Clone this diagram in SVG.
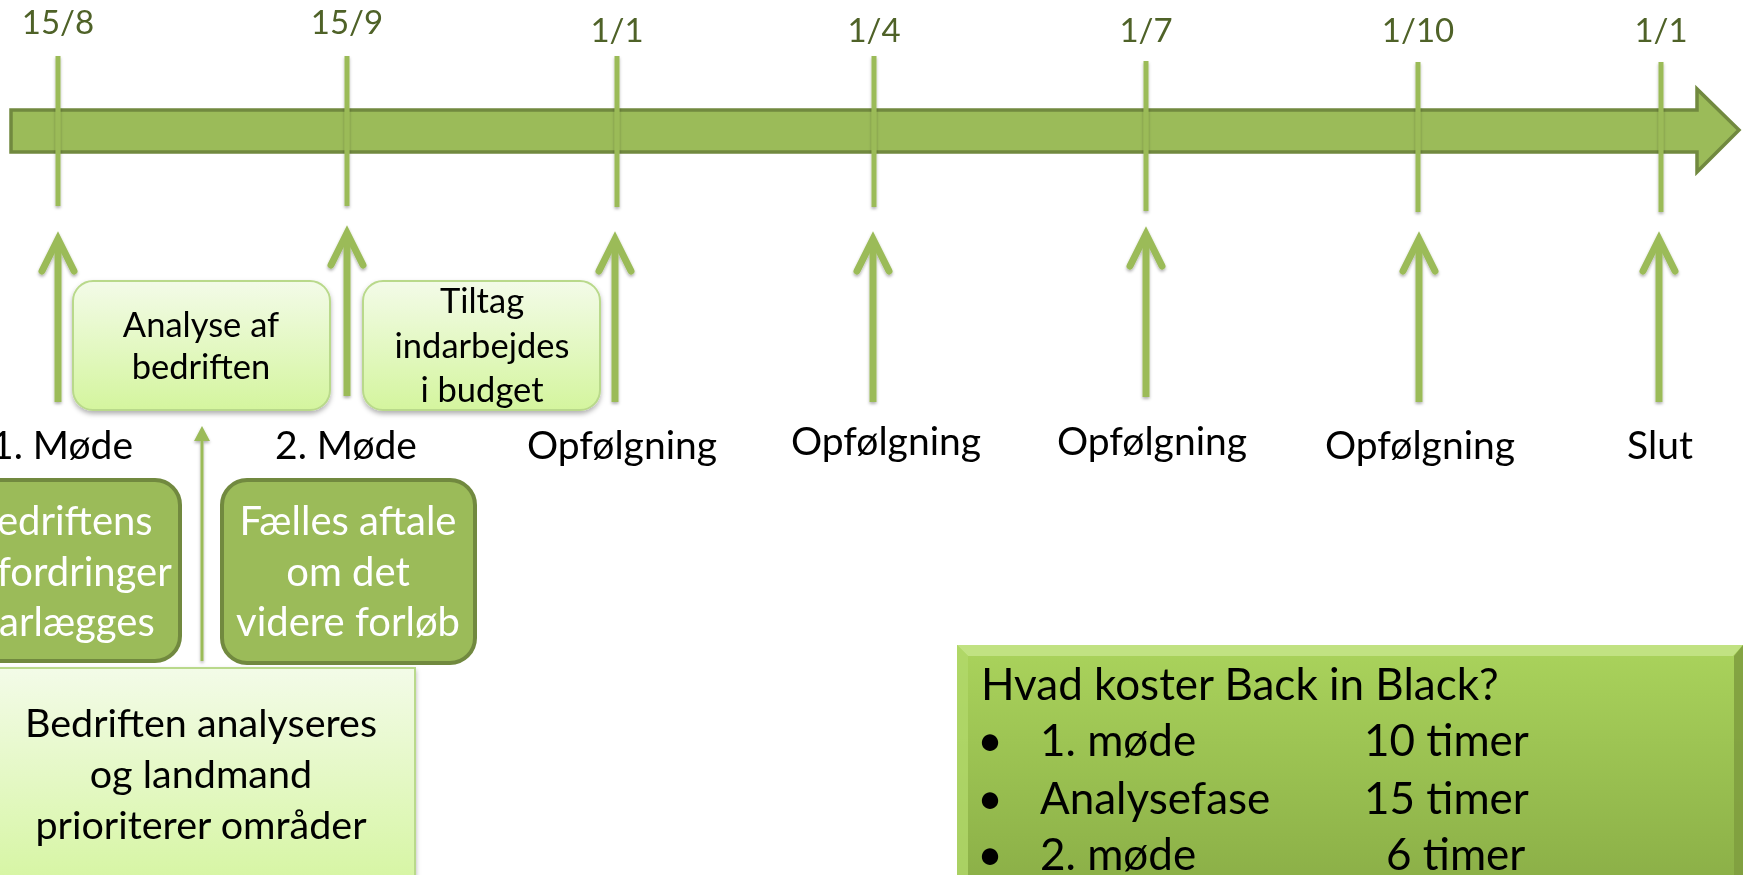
<svg xmlns="http://www.w3.org/2000/svg" xmlns:xlink="http://www.w3.org/1999/xlink" width="1743" height="875" viewBox="0 0 1743 875">
<defs>
<linearGradient id="lightGrad" x1="0" y1="0" x2="0" y2="1">
<stop offset="0" stop-color="#F3FBE8"/>
<stop offset="1" stop-color="#D4F59E"/>
</linearGradient>
<linearGradient id="costGrad" x1="0" y1="0" x2="0" y2="1">
<stop offset="0" stop-color="#AAD35C"/>
<stop offset="1" stop-color="#8BAF47"/>
</linearGradient>
<filter id="shadow" x="-10%" y="-10%" width="120%" height="130%">
<feDropShadow dx="0" dy="3" stdDeviation="2.5" flood-color="#000" flood-opacity="0.3"/>
</filter>
<filter id="lineShadow" x="-100%" y="-10%" width="300%" height="120%">
<feDropShadow dx="0" dy="2" stdDeviation="1.5" flood-color="#000" flood-opacity="0.3"/>
</filter>
<g id="up">
<line x1="0" y1="4" x2="0" y2="164" stroke="#9BBB59" stroke-width="7"/>
<polyline points="-16,33 0,1 16,33" fill="none" stroke="#9BBB59" stroke-width="7" stroke-linecap="round" stroke-linejoin="miter"/>
</g>
</defs>
<style>
text { font-family: Lato, "Open Sans", "Liberation Sans", sans-serif; }
.date { font-size: 33px; fill: #4F6228; text-anchor: middle; }
.event { font-size: 39px; fill: #000; text-anchor: middle; }
.dark { fill: #9BBB59; stroke: #71893F; stroke-width: 4; }
.darkText { font-size: 40px; fill: #FFF; text-anchor: middle; }
.light { fill: url(#lightGrad); stroke: #B9D98B; stroke-width: 2; }
.lightText { font-size: 34.5px; fill: #000; text-anchor: middle; }
.bigLightText { font-size: 39.5px; fill: #000; text-anchor: middle; }
.tick { stroke: #9BBB59; stroke-width: 5; }
.cost { font-size: 44px; fill: #000; }
</style>
<rect width="1743" height="875" fill="#FFFFFF"/>

<g id="timeline">
<path d="M11,110 H1697 V89 L1739,130 L1697,172 V152 H11 Z" fill="#9BBB59" stroke="#71893F" stroke-width="3.5"/>
<g filter="url(#lineShadow)">
<line class="tick" x1="58" y1="56" x2="58" y2="206"/>
<line class="tick" x1="347" y1="56" x2="347" y2="206"/>
<line class="tick" x1="617" y1="56" x2="617" y2="207"/>
<line class="tick" x1="874" y1="56" x2="874" y2="207"/>
<line class="tick" x1="1146" y1="61" x2="1146" y2="211"/>
<line class="tick" x1="1418" y1="62" x2="1418" y2="212"/>
<line class="tick" x1="1661" y1="62" x2="1661" y2="212"/>
</g>
</g>

<g id="connectors" filter="url(#lineShadow)">
<use xlink:href="#up" x="58" y="238"/>
<use xlink:href="#up" x="347" y="232"/>
<use xlink:href="#up" x="615" y="238"/>
<use xlink:href="#up" x="873" y="238"/>
<use xlink:href="#up" x="1146" y="233"/>
<use xlink:href="#up" x="1419" y="238"/>
<use xlink:href="#up" x="1659" y="238"/>
<line x1="202" y1="661" x2="202" y2="438" stroke="#9BBB59" stroke-width="3"/>
<polygon points="202,426 194,441 210,441" fill="#9BBB59"/>
</g>

<g id="m1">
<text class="date" x="58" y="34">15/8</text>
<text class="event" x="62" y="459">1. Møde</text>
</g>
<g id="m2">
<text class="date" x="347" y="34">15/9</text>
<text class="event" x="346" y="459">2. Møde</text>
</g>
<g id="m3">
<text class="date" x="617" y="42">1/1</text>
<text class="event" x="622" y="459">Opfølgning</text>
</g>
<g id="m4">
<text class="date" x="874" y="42">1/4</text>
<text class="event" x="886" y="455">Opfølgning</text>
</g>
<g id="m5">
<text class="date" x="1146" y="42">1/7</text>
<text class="event" x="1152" y="455">Opfølgning</text>
</g>
<g id="m6">
<text class="date" x="1418" y="42">1/10</text>
<text class="event" x="1420" y="459">Opfølgning</text>
</g>
<g id="m7">
<text class="date" x="1661" y="42">1/1</text>
<text class="event" x="1660" y="459">Slut</text>
</g>

<g id="analyse">
<rect class="light" x="73" y="281" width="257" height="129" rx="20" filter="url(#shadow)"/>
<text class="lightText" x="201" y="337">Analyse af</text>
<text class="lightText" x="201" y="379">bedriften</text>
</g>

<g id="tiltag">
<rect class="light" x="363" y="281" width="237" height="129" rx="20" filter="url(#shadow)"/>
<text class="lightText" x="482" y="313">Tiltag</text>
<text class="lightText" x="482" y="358">indarbejdes</text>
<text class="lightText" x="482" y="402">i budget</text>
</g>

<g id="udfordringer">
<rect class="dark" x="-56" y="480" width="236" height="181" rx="25"/>
<text class="darkText" x="62" y="535">Bedriftens</text>
<text class="darkText" x="62" y="586">udfordringer</text>
<text class="darkText" x="62" y="636">klarlægges</text>
</g>

<g id="aftale">
<rect class="dark" x="222" y="480" width="253" height="183" rx="25"/>
<text class="darkText" x="348" y="535">Fælles aftale</text>
<text class="darkText" x="348" y="586">om det</text>
<text class="darkText" x="348" y="636">videre forløb</text>
</g>

<g id="analyseres">
<rect class="light" x="-13" y="668" width="428" height="230" filter="url(#shadow)"/>
<text class="bigLightText" x="201" y="737">Bedriften analyseres</text>
<text class="bigLightText" x="201" y="788">og landmand</text>
<text class="bigLightText" x="201" y="839">prioriterer områder</text>
</g>

<g id="pris">
<rect x="957" y="645" width="800" height="240" fill="url(#costGrad)"/>
<polygon points="957,645 1743,645 1733,656 968,656" fill="#C3E386" opacity="0.9"/>
<polygon points="957,645 968,656 968,875 957,875" fill="#B2D86A" opacity="0.8"/>
<polygon points="1743,645 1743,875 1734,875 1734,656" fill="#7F9F3F" opacity="0.9"/>
<text class="cost" x="981" y="700">Hvad koster Back in Black?</text>
<text class="cost" x="990" y="756" text-anchor="middle">•</text>
<text class="cost" x="1040" y="756">1. møde</text>
<text class="cost" x="1364" y="756">10 timer</text>
<text class="cost" x="990" y="814" text-anchor="middle">•</text>
<text class="cost" x="1040" y="814">Analysefase</text>
<text class="cost" x="1364" y="814">15 timer</text>
<text class="cost" x="990" y="870" text-anchor="middle">•</text>
<text class="cost" x="1040" y="870">2. møde</text>
<text class="cost" x="1386" y="870">6 timer</text>
</g>
</svg>
